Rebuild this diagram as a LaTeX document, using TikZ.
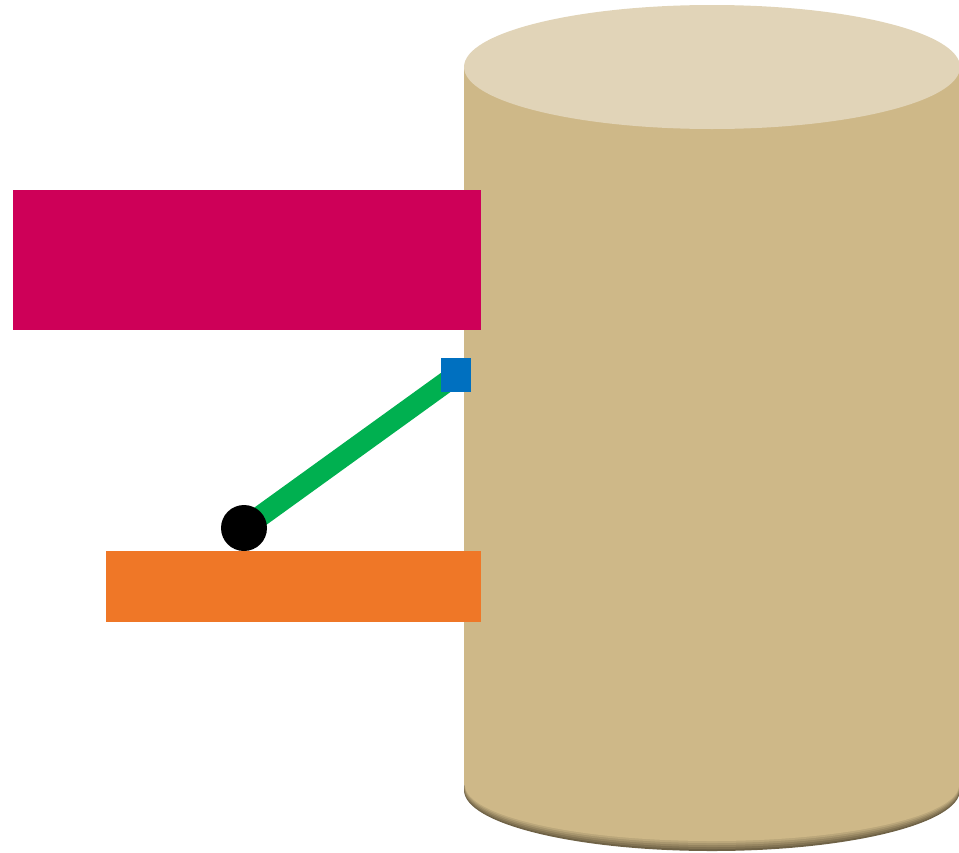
\documentclass[tikz,border=0pt]{standalone}
\usepackage{xcolor}
\usepackage{tikz}
\usetikzlibrary{calc, positioning, backgrounds}
\definecolor{tankTan}{HTML}{CEB888}
\definecolor{tankTop}{HTML}{E1D4B8}
\definecolor{tankShade}{HTML}{6F6246}
\definecolor{barMagenta}{HTML}{CE0058}
\definecolor{barOrange}{HTML}{EF7727}
\definecolor{portBlue}{HTML}{0070C0}
\definecolor{armGreen}{HTML}{00B050}
\tikzset{
  bar/.style  = {draw=none, rectangle, inner sep=0pt},
  port/.style = {draw=none, fill=portBlue, rectangle, inner sep=0pt,
                 minimum width=6mm, minimum height=6.8mm},
  pivot/.style= {draw=none, fill=black, circle, inner sep=0pt, minimum size=9.2mm},
  arm/.style  = {draw=armGreen, line width=12pt}
}

\begin{document}
\begin{tikzpicture}[x=0.02cm, y=-0.02cm]
  \useasboundingbox (0,0) rectangle (959,852);
  % tank
  \fill[tankShade] (712,790) ellipse [x radius=248, y radius=61];
  \foreach \k/\p in {1/80, 2/60, 3/40, 4/20, 5/0}
    \fill[tankShade!\p!tankTan] (712,{790-\k}) ellipse [x radius={248-\k*0.2}, y radius={61-\k}];
  \fill[tankTan] (464,67) rectangle (960,785);
  \fill[tankTop] (712,67) ellipse [x radius=248, y radius=62];
  % bars
  \node[bar, fill=barMagenta, minimum width=93.6mm, minimum height=28mm] (upper) at (247,260) {};
  \node[bar, fill=barOrange, minimum width=75mm, minimum height=14.2mm] (lower) at (293.5,586.5) {};
  % arm
  \node[port] (port) at (456,375) {};
  \node[pivot] (pivot) at (244,528) {};
  \begin{scope}[on background layer]
    \draw[arm] (pivot.center) -- (port.center);
  \end{scope}
\end{tikzpicture}
\end{document}
